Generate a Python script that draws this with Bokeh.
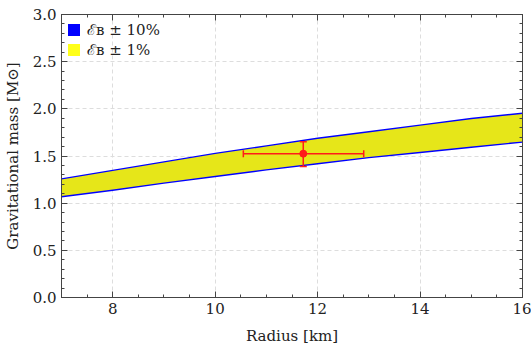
import math
from bokeh.plotting import figure
from bokeh.models import (ColumnDataSource, LinearAxis, SingleIntervalTicker, NumeralTickFormatter,
                          Range1d, Legend, LegendItem, CustomJSTickFormatter)
from bokeh.embed import file_html
from bokeh.resources import INLINE

# ---- data ----
radius = [7, 8, 9, 10, 11, 12, 13, 14, 15, 16]
eb1_upper = [1.25, 1.34, 1.43, 1.52, 1.60, 1.68, 1.75, 1.82, 1.89, 1.945]
eb1_lower = [1.075, 1.145, 1.22, 1.29, 1.36, 1.425, 1.49, 1.545, 1.60, 1.655]
eb10_upper = [1.265, 1.355, 1.445, 1.535, 1.615, 1.695, 1.765, 1.835, 1.905, 1.96]
eb10_lower = [1.06, 1.13, 1.205, 1.275, 1.345, 1.41, 1.475, 1.53, 1.585, 1.64]

obs_r = [11.72]
obs_m = [1.525]
obs_r_lo = [10.55]
obs_r_hi = [12.9]
obs_m_lo = [1.39]
obs_m_hi = [1.65]

labels = ["\u2130\u0299 \u00b1 10%", "\u2130\u0299 \u00b1 1%"]

FONT = "DejaVu Serif"
RED = "#ff1a1a"

p = figure(width=531, height=347, output_backend="svg", toolbar_location=None,
           x_range=Range1d(7, 16), y_range=Range1d(0, 3.0),
           min_border_left=61, min_border_right=9, min_border_top=14, min_border_bottom=48)
p.outline_line_color = "#444444"
p.outline_line_width = 1

band_src = ColumnDataSource(dict(x=radius, u1=eb1_upper, l1=eb1_lower, u10=eb10_upper, l10=eb10_lower))
rb = p.varea(x="x", y1="l10", y2="u10", source=band_src, fill_color="#0000ff", fill_alpha=1.0)
ry = p.varea(x="x", y1="l1", y2="u1", source=band_src, fill_color="#ffff00", fill_alpha=0.9)

# error bars
err_src = ColumnDataSource(dict(r=obs_r, m=obs_m, rlo=obs_r_lo, rhi=obs_r_hi, mlo=obs_m_lo, mhi=obs_m_hi))
p.segment(x0="rlo", y0="m", x1="rhi", y1="m", source=err_src, line_color=RED, line_width=1.5)
p.segment(x0="r", y0="mlo", x1="r", y1="mhi", source=err_src, line_color=RED, line_width=1.5)
p.scatter(x="rlo", y="m", source=err_src, marker="dash", angle=math.pi / 2, size=7,
          line_color=RED, line_width=1.5)
p.scatter(x="rhi", y="m", source=err_src, marker="dash", angle=math.pi / 2, size=7,
          line_color=RED, line_width=1.5)
p.scatter(x="r", y="mlo", source=err_src, marker="dash", size=7, line_color=RED, line_width=1.5)
p.scatter(x="r", y="mhi", source=err_src, marker="dash", size=7, line_color=RED, line_width=1.5)
p.scatter(x="r", y="m", source=err_src, size=7, fill_color=RED, line_color=RED)

legend = Legend(items=[LegendItem(label=labels[0], renderers=[rb]),
                       LegendItem(label=labels[1], renderers=[ry])],
                location="top_left", background_fill_alpha=0, border_line_color=None,
                label_text_font=FONT, label_text_font_size="15px", label_text_font_style="normal",
                label_text_color="#222222",
                glyph_width=15, glyph_height=15, spacing=0, padding=4, margin=5,
                label_standoff=6, label_height=14)
p.add_layout(legend)

# axes
xt = SingleIntervalTicker(interval=2, num_minor_ticks=4)
yt = SingleIntervalTicker(interval=0.5, num_minor_ticks=5)
p.xaxis.ticker = xt
p.yaxis.ticker = yt
p.yaxis.formatter = NumeralTickFormatter(format="0.0")
p.xaxis.axis_label = "Radius [km]"
p.yaxis.axis_label = "Gravitational mass [M\u2299]"
for ax in (p.xaxis[0], p.yaxis[0]):
    ax.major_tick_in = 6
    ax.major_tick_out = 0
    ax.minor_tick_in = 3
    ax.minor_tick_out = 0
    ax.axis_line_color = "#444444"
    ax.major_tick_line_color = "#444444"
    ax.minor_tick_line_color = "#444444"
    ax.major_label_text_font = FONT
    ax.major_label_text_font_size = "15px"
    ax.major_label_text_color = "#222222"
    ax.axis_label_text_font = FONT
    ax.axis_label_text_font_size = "15px"
    ax.axis_label_text_font_style = "normal"
    ax.axis_label_text_color = "#222222"
p.xaxis.major_label_standoff = 5
p.xaxis.axis_label_standoff = 10
p.yaxis.major_label_standoff = 5
p.yaxis.axis_label_standoff = 8

blank = CustomJSTickFormatter(code="return ''")
for loc in ("right", "above"):
    ax = LinearAxis(ticker=yt if loc == "right" else xt, formatter=blank,
                    major_label_text_font_size="1px", major_tick_in=6, major_tick_out=0,
                    minor_tick_in=3, minor_tick_out=0, axis_line_color="#444444",
                    major_tick_line_color="#444444", minor_tick_line_color="#444444",
                    major_label_standoff=0)
    p.add_layout(ax, loc)

p.xgrid.grid_line_color = "#dddddd"
p.ygrid.grid_line_color = "#dddddd"
p.xgrid.grid_line_dash = "4 3"
p.ygrid.grid_line_dash = "4 3"

open("out.html", "w").write(file_html(p, INLINE))
